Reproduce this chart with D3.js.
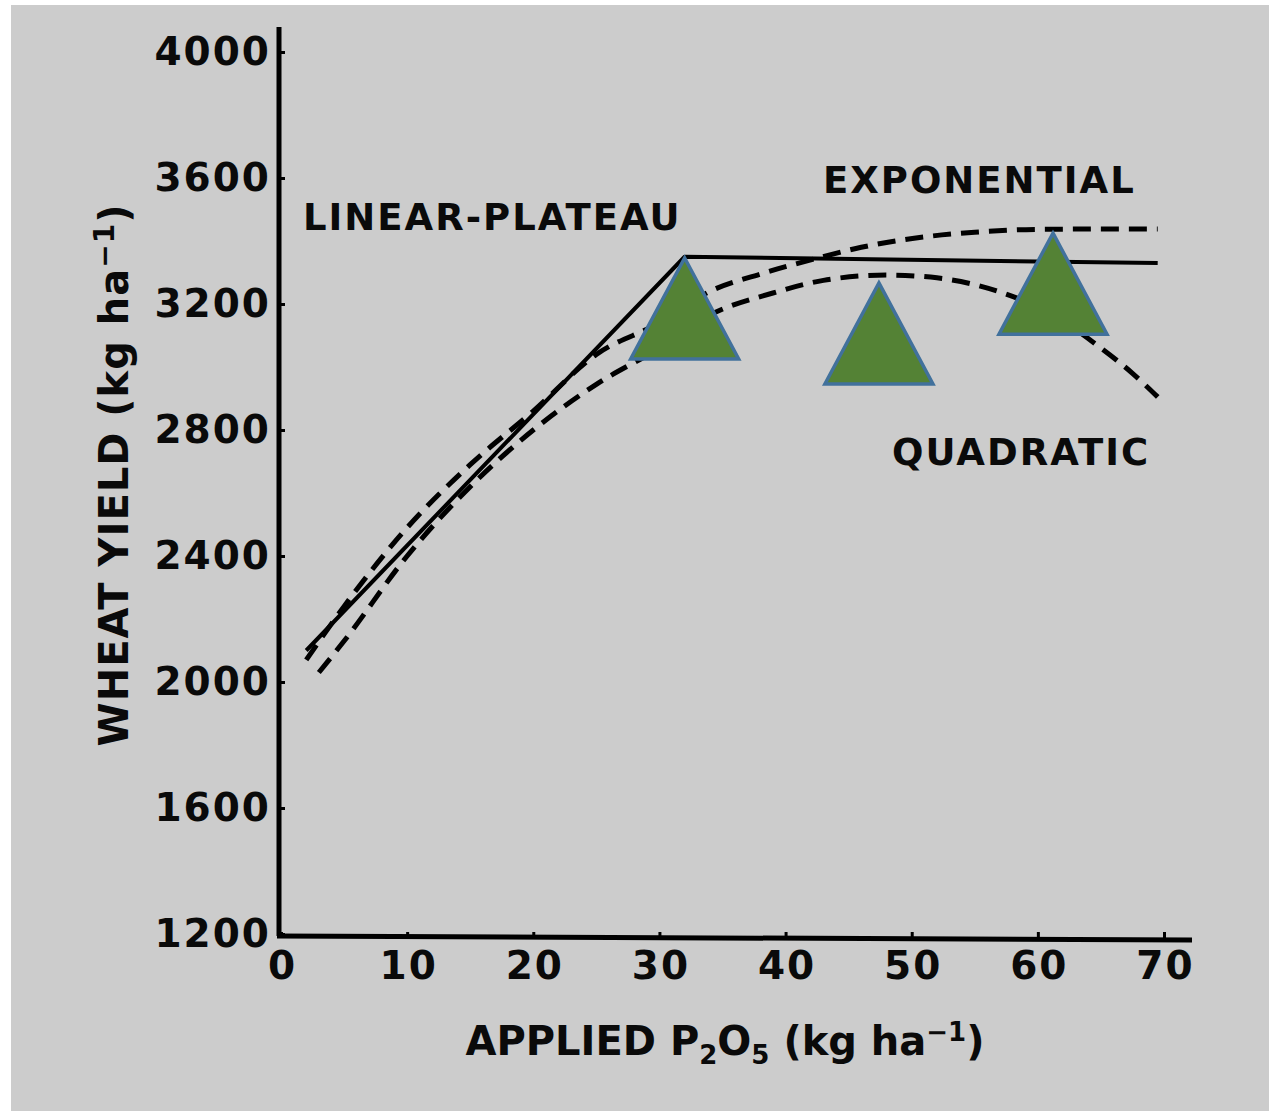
<!DOCTYPE html>
<html>
<head>
<meta charset="utf-8">
<script src="https://cdn.jsdelivr.net/npm/d3@7"></script>
<style>
  html, body { margin: 0; padding: 0; background: #ffffff; }
  svg { display: block; }
  text { font-family: "DejaVu Sans", "Liberation Sans", Arial, sans-serif; font-weight: bold; fill: #0a0a0a; }
</style>
</head>
<body>
<script>
// Applied P2O5 (kg/ha) and wheat yield (kg/ha) for each fitted response model
const xTicks = [0, 10, 20, 30, 40, 50, 60, 70];
const yTicks = [1200, 1600, 2000, 2400, 2800, 3200, 3600, 4000];

const linearPlateauP = [2, 32, 69.5];
const linearPlateauYield = [2100, 3350, 3330];

const exponentialP = [2, 5, 10, 15, 20, 25, 30, 34, 38, 42, 46, 51, 55, 60, 65, 69.5];
const exponentialYield = [2070, 2240, 2490, 2690, 2860, 3040, 3140, 3240, 3295, 3340, 3380, 3413, 3428, 3437, 3438, 3438];

const quadraticP = [3, 5, 10, 15, 20, 25, 30, 34, 39, 43, 48, 52, 57, 61, 65, 67.5, 69.5];
const quadraticYield = [2030, 2130, 2400, 2620, 2800, 2945, 3060, 3165, 3235, 3275, 3292, 3283, 3238, 3170, 3060, 2980, 2905];

// Optimum-rate markers (apex of each triangle)
const markerP = [32, 47.4, 61.2];
const markerYield = [3346, 3267, 3425];

const curveLabels = ["LINEAR-PLATEAU", "EXPONENTIAL", "QUADRATIC"];

const W = 1269, H = 1111;
const FONT = "DejaVu Sans, Liberation Sans, Arial, sans-serif";
const svg = d3.select("body").append("svg").attr("width", W).attr("height", H);

// paper background
svg.append("rect").attr("x", 11).attr("y", 5).attr("width", W - 11).attr("height", H - 5).attr("fill", "#cccccc");

const x = d3.scaleLinear().domain([0, 70]).range([281, 1164]);
const y = d3.scaleLinear().domain([1200, 4000]).range([934, 52]);

// axis spines
const spineX = x(0) - 2;
svg.append("line").attr("x1", spineX).attr("x2", spineX).attr("y1", y(4000) - 25).attr("y2", y(1200) + 2)
  .attr("stroke", "#000").attr("stroke-width", 5);
svg.append("line").attr("x1", spineX - 2).attr("x2", x(70) + 28).attr("y1", y(1200) + 2).attr("y2", y(1200) + 6)
  .attr("stroke", "#000").attr("stroke-width", 5);

// y axis ticks and labels
const yAxis = d3.axisLeft(y).tickValues(yTicks).tickFormat(d3.format("d")).tickSize(-6).tickSizeOuter(0).tickPadding(10);
const gy = svg.append("g").attr("transform", `translate(${spineX},0)`).call(yAxis);
gy.select(".domain").remove();
gy.selectAll(".tick line").attr("stroke", "#000").attr("stroke-width", 3);
gy.selectAll(".tick text").attr("font-size", 39).attr("letter-spacing", 2).attr("fill", "#0a0a0a")
  .attr("font-family", FONT).attr("font-weight", "bold").attr("dx", 2);

// x axis ticks and labels
const xAxis = d3.axisBottom(x).tickValues(xTicks).tickFormat(d3.format("d")).tickSize(-6).tickSizeOuter(0).tickPadding(13);
const gx = svg.append("g").attr("transform", `translate(0,${y(1200) + 4})`).call(xAxis);
gx.select(".domain").remove();
gx.selectAll(".tick line").attr("stroke", "#000").attr("stroke-width", 3);
gx.selectAll(".tick text").attr("font-size", 39).attr("letter-spacing", 2).attr("fill", "#0a0a0a")
  .attr("font-family", FONT).attr("font-weight", "bold").attr("dx", 1);

// axis titles
const yTitle = svg.append("text").attr("transform", "translate(128,475) rotate(-90)")
  .attr("text-anchor", "middle").attr("font-size", 40).attr("letter-spacing", 1);
yTitle.append("tspan").text("WHEAT YIELD (kg ha");
yTitle.append("tspan").attr("font-size", 28).attr("dy", -14).text("\u22121");
yTitle.append("tspan").attr("dy", 14).text(")");

const xTitle = svg.append("text").attr("x", 725).attr("y", 1055)
  .attr("text-anchor", "middle").attr("font-size", 40).attr("letter-spacing", 0);
xTitle.append("tspan").text("APPLIED P");
xTitle.append("tspan").attr("font-size", 26).attr("dy", 9).text("2");
xTitle.append("tspan").attr("dy", -9).text("O");
xTitle.append("tspan").attr("font-size", 26).attr("dy", 9).text("5");
xTitle.append("tspan").attr("dy", -9).text(" (kg ha");
xTitle.append("tspan").attr("font-size", 26).attr("dy", -14).text("\u22121");
xTitle.append("tspan").attr("dy", 14).text(")");

// response curves
const toPoints = (ps, ys) => ps.map((p, i) => [p, ys[i]]);
const line = d3.line().x(d => x(d[0])).y(d => y(d[1]));
const smooth = d3.line().x(d => x(d[0])).y(d => y(d[1])).curve(d3.curveMonotoneX);

svg.append("path").datum(toPoints(linearPlateauP, linearPlateauYield)).attr("d", line)
  .attr("fill", "none").attr("stroke", "#000").attr("stroke-width", 4).attr("stroke-linejoin", "round");
svg.append("path").datum(toPoints(exponentialP, exponentialYield)).attr("d", smooth)
  .attr("fill", "none").attr("stroke", "#000").attr("stroke-width", 5).attr("stroke-dasharray", "18,10");
svg.append("path").datum(toPoints(quadraticP, quadraticYield)).attr("d", smooth)
  .attr("fill", "none").attr("stroke", "#000").attr("stroke-width", 5).attr("stroke-dasharray", "18,10");

// curve labels
const labelPos = [[303, 230], [823, 193], [892, 465]];
svg.selectAll("text.curve-label").data(curveLabels).enter().append("text")
  .attr("class", "curve-label")
  .attr("x", (d, i) => labelPos[i][0]).attr("y", (d, i) => labelPos[i][1])
  .attr("font-size", 37).attr("letter-spacing", 2).text(d => d);

// optimum markers
const triW = 108, triH = 101;
svg.selectAll("path.marker").data(markerP.map((p, i) => [p, markerYield[i]])).enter().append("path")
  .attr("class", "marker")
  .attr("d", d => {
    const cx = x(d[0]), cy = y(d[1]);
    return `M${cx},${cy}L${cx + triW / 2},${cy + triH}L${cx - triW / 2},${cy + triH}Z`;
  })
  .attr("fill", "#548235").attr("stroke", "#41719c").attr("stroke-width", 3.5).attr("stroke-linejoin", "miter");
</script>
</body>
</html>
